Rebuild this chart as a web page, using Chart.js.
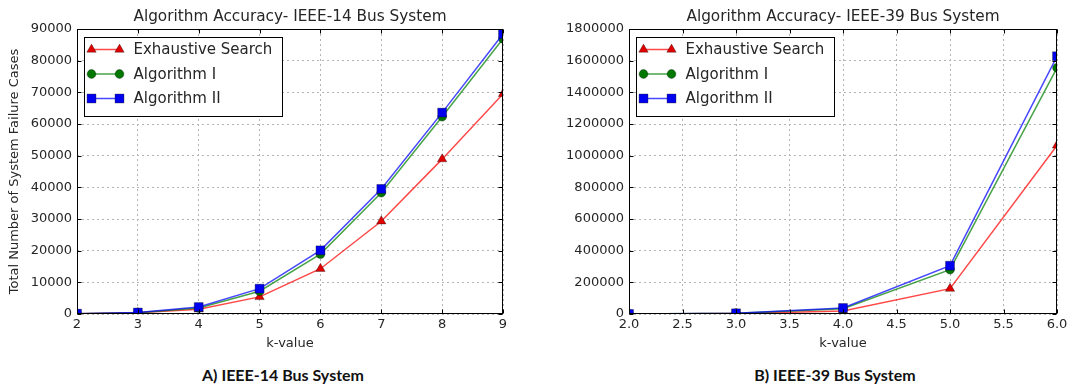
<!DOCTYPE html>
<html>
<head>
<meta charset="utf-8">
<script src="https://cdn.jsdelivr.net/npm/chart.js@4.4.1/dist/chart.umd.min.js"></script>
<style>
  html, body { margin: 0; padding: 0; background: #ffffff; }
  body { width: 1072px; height: 387px; position: relative; overflow: hidden; }
  canvas { position: absolute; top: 0; }
  #chart14 { left: 0; }
  #chart39 { left: 540px; }
  .caption {
    position: absolute; top: 366px; width: 300px; text-align: center;
    font-family: Lato, "Open Sans", sans-serif; font-weight: 700; font-size: 16px;
    line-height: 18px; color: #111111;
  }
</style>
</head>
<body>
<canvas id="chart14" width="540" height="356"></canvas>
<canvas id="chart39" width="532" height="356"></canvas>
<div class="caption" style="left:133px">A) IEEE-14 Bus System</div>
<div class="caption" style="left:685px">B) IEEE-39 Bus System</div>

<script>
// ---- data ----
const seriesNames = ['Exhaustive Search', 'Algorithm I', 'Algorithm II'];

// IEEE-14 bus system
const kValues14 = [2, 3, 4, 5, 6, 7, 8, 9];
const exhaustive14 = [90, 360, 1500, 5400, 14300, 29300, 48900, 69500];
const algorithmI14 = [100, 420, 1900, 7200, 18900, 38300, 62300, 86900];
const algorithmII14 = [110, 460, 2200, 8000, 20100, 39500, 63600, 88400];
const xTicks14 = [2, 3, 4, 5, 6, 7, 8, 9];
const yTicks14 = [0, 10000, 20000, 30000, 40000, 50000, 60000, 70000, 80000, 90000];

// IEEE-39 bus system
const kValues39 = [2, 3, 4, 5, 6];
const exhaustive39 = [300, 2500, 19000, 160000, 1065000];
const algorithmI39 = [400, 4000, 33000, 280000, 1555000];
const algorithmII39 = [450, 4500, 38000, 305000, 1628000];
const xTicks39 = [2.0, 2.5, 3.0, 3.5, 4.0, 4.5, 5.0, 5.5, 6.0];
const yTicks39 = [0, 200000, 400000, 600000, 800000, 1000000, 1200000, 1400000, 1600000, 1800000];

// ---- styling ----
const seriesStyles = [
  { line: 'rgba(255,0,0,0.72)', fill: '#e00000', shape: 'triangle', radius: 5.4 },
  { line: 'rgba(0,128,0,0.72)', fill: '#007800', shape: 'circle', radius: 4.4 },
  { line: 'rgba(0,0,255,0.72)', fill: '#0000f0', shape: 'rect', radius: 6.3 }
];
const FONT = '"DejaVu Sans", sans-serif';
const TEXT = '#262626';

function buildDatasets(kValues, seriesValues) {
  return seriesValues.map((values, i) => {
    const st = seriesStyles[i];
    return {
      label: seriesNames[i],
      data: kValues.map((k, j) => ({ x: k, y: values[j] })),
      borderColor: st.line,
      borderWidth: 1.5,
      backgroundColor: st.fill,
      pointStyle: st.shape,
      pointRadius: st.radius,
      pointBackgroundColor: st.fill,
      pointBorderColor: 'rgba(0,0,0,0.55)',
      pointBorderWidth: 0.6,
      tension: 0,
      clip: 0,
      order: seriesNames.length - i
    };
  });
}

// Box frame, inward tick marks, title and the line+marker legend
const framePlugin = {
  id: 'frame',
  afterDatasetsDraw(chart, args, opts) {
    const { ctx, chartArea: a, scales } = chart;
    const L = Math.round(a.left) + 0.5, R = Math.round(a.right) - 0.5;
    const T = Math.round(a.top) + 0.5, B = Math.round(a.bottom) - 0.5;
    ctx.save();
    ctx.strokeStyle = '#000000';
    ctx.lineWidth = 1;
    ctx.beginPath();
    scales.x.ticks.forEach(t => {
      const px = Math.round(scales.x.getPixelForValue(t.value)) + 0.5;
      ctx.moveTo(px, B); ctx.lineTo(px, B - 4);
      ctx.moveTo(px, T); ctx.lineTo(px, T + 4);
    });
    scales.y.ticks.forEach(t => {
      const py = Math.round(scales.y.getPixelForValue(t.value)) + 0.5;
      ctx.moveTo(L, py); ctx.lineTo(L + 4, py);
      ctx.moveTo(R, py); ctx.lineTo(R - 4, py);
    });
    ctx.stroke();
    ctx.strokeRect(L, T, R - L, B - T);
    ctx.restore();
  },
  afterDraw(chart, args, opts) {
    const { ctx, chartArea: a } = chart;
    ctx.save();
    // title
    ctx.fillStyle = TEXT;
    ctx.font = '15.3px ' + FONT;
    ctx.textAlign = 'center';
    ctx.textBaseline = 'alphabetic';
    ctx.fillText(opts.title, (a.left + a.right) / 2, 21);

    // legend
    const bx = Math.round(a.left) + 7.5, by = Math.round(a.top) + 8.5;
    const bw = 198, bh = 79;
    ctx.fillStyle = '#ffffff';
    ctx.fillRect(bx, by, bw, bh);
    ctx.strokeStyle = '#000000';
    ctx.lineWidth = 1;
    ctx.strokeRect(bx, by, bw, bh);
    chart.data.datasets.forEach((ds, i) => {
      const cy = by + 12 + i * 24.5;
      const x0 = bx + 7, x1 = bx + 35;
      ctx.strokeStyle = ds.borderColor;
      ctx.lineWidth = 1.5;
      ctx.beginPath(); ctx.moveTo(x0, cy); ctx.lineTo(x1, cy); ctx.stroke();
      ctx.fillStyle = ds.pointBackgroundColor;
      ctx.strokeStyle = ds.pointBorderColor;
      ctx.lineWidth = ds.pointBorderWidth;
      [x0, x1].forEach(px => Chart.helpers.drawPoint(ctx, {
        pointStyle: ds.pointStyle, radius: ds.pointRadius, borderWidth: ds.pointBorderWidth, rotation: 0
      }, px, cy));
      ctx.fillStyle = TEXT;
      ctx.font = '15px ' + FONT;
      ctx.textAlign = 'left';
      ctx.textBaseline = 'middle';
      ctx.fillText(ds.label, bx + 49, cy + 1);
    });
    ctx.restore();
  }
};

function makeChart(id, cfg) {
  return new Chart(document.getElementById(id), {
    type: 'line',
    data: { datasets: buildDatasets(cfg.kValues, cfg.series) },
    options: {
      responsive: false,
      animation: false,
      devicePixelRatio: 1,
      layout: { padding: { left: 3, right: cfg.padRight, top: 29, bottom: 0 } },
      plugins: {
        legend: { display: false },
        tooltip: { enabled: false },
        frame: { title: cfg.title }
      },
      scales: {
        x: {
          type: 'linear',
          min: cfg.xTicks[0], max: cfg.xTicks[cfg.xTicks.length - 1],
          afterBuildTicks: s => { s.ticks = cfg.xTicks.map(v => ({ value: v })); },
          afterFit: s => { s.height = 42; },
          ticks: {
            padding: 3, color: TEXT, font: { family: FONT, size: 13 },
            maxRotation: 0, autoSkip: false,
            callback: v => cfg.xFormat(v)
          },
          grid: { color: '#b4b4b4', lineWidth: 1, drawTicks: false },
          border: { display: false, dash: [2, 3] },
          title: {
            display: true, text: 'k-value', color: TEXT,
            font: { family: FONT, size: 13 }, padding: { top: 0, bottom: 5 }
          }
        },
        y: {
          type: 'linear',
          min: cfg.yTicks[0], max: cfg.yTicks[cfg.yTicks.length - 1],
          afterBuildTicks: s => { s.ticks = cfg.yTicks.map(v => ({ value: v })); },
          afterFit: s => { s.width = cfg.yWidth; },
          ticks: {
            padding: 5, color: TEXT, font: { family: FONT, size: 13 },
            autoSkip: false, callback: v => String(v)
          },
          grid: { color: '#b4b4b4', lineWidth: 1, drawTicks: false },
          border: { display: false, dash: [2, 3] },
          title: {
            display: cfg.yTitle !== '', text: cfg.yTitle, color: TEXT,
            font: { family: FONT, size: 13 }, padding: { top: 4, bottom: 0 }
          }
        }
      }
    },
    plugins: [framePlugin]
  });
}

makeChart('chart14', {
  title: 'Algorithm Accuracy- IEEE-14 Bus System',
  kValues: kValues14,
  series: [exhaustive14, algorithmI14, algorithmII14],
  xTicks: xTicks14, yTicks: yTicks14,
  xFormat: v => String(v),
  yTitle: 'Total Number of System Failure Cases',
  yWidth: 74, padRight: 37
});

makeChart('chart39', {
  title: 'Algorithm Accuracy- IEEE-39 Bus System',
  kValues: kValues39,
  series: [exhaustive39, algorithmI39, algorithmII39],
  xTicks: xTicks39, yTicks: yTicks39,
  xFormat: v => v.toFixed(1),
  yTitle: '',
  yWidth: 86, padRight: 15
});
</script>
</body>
</html>
